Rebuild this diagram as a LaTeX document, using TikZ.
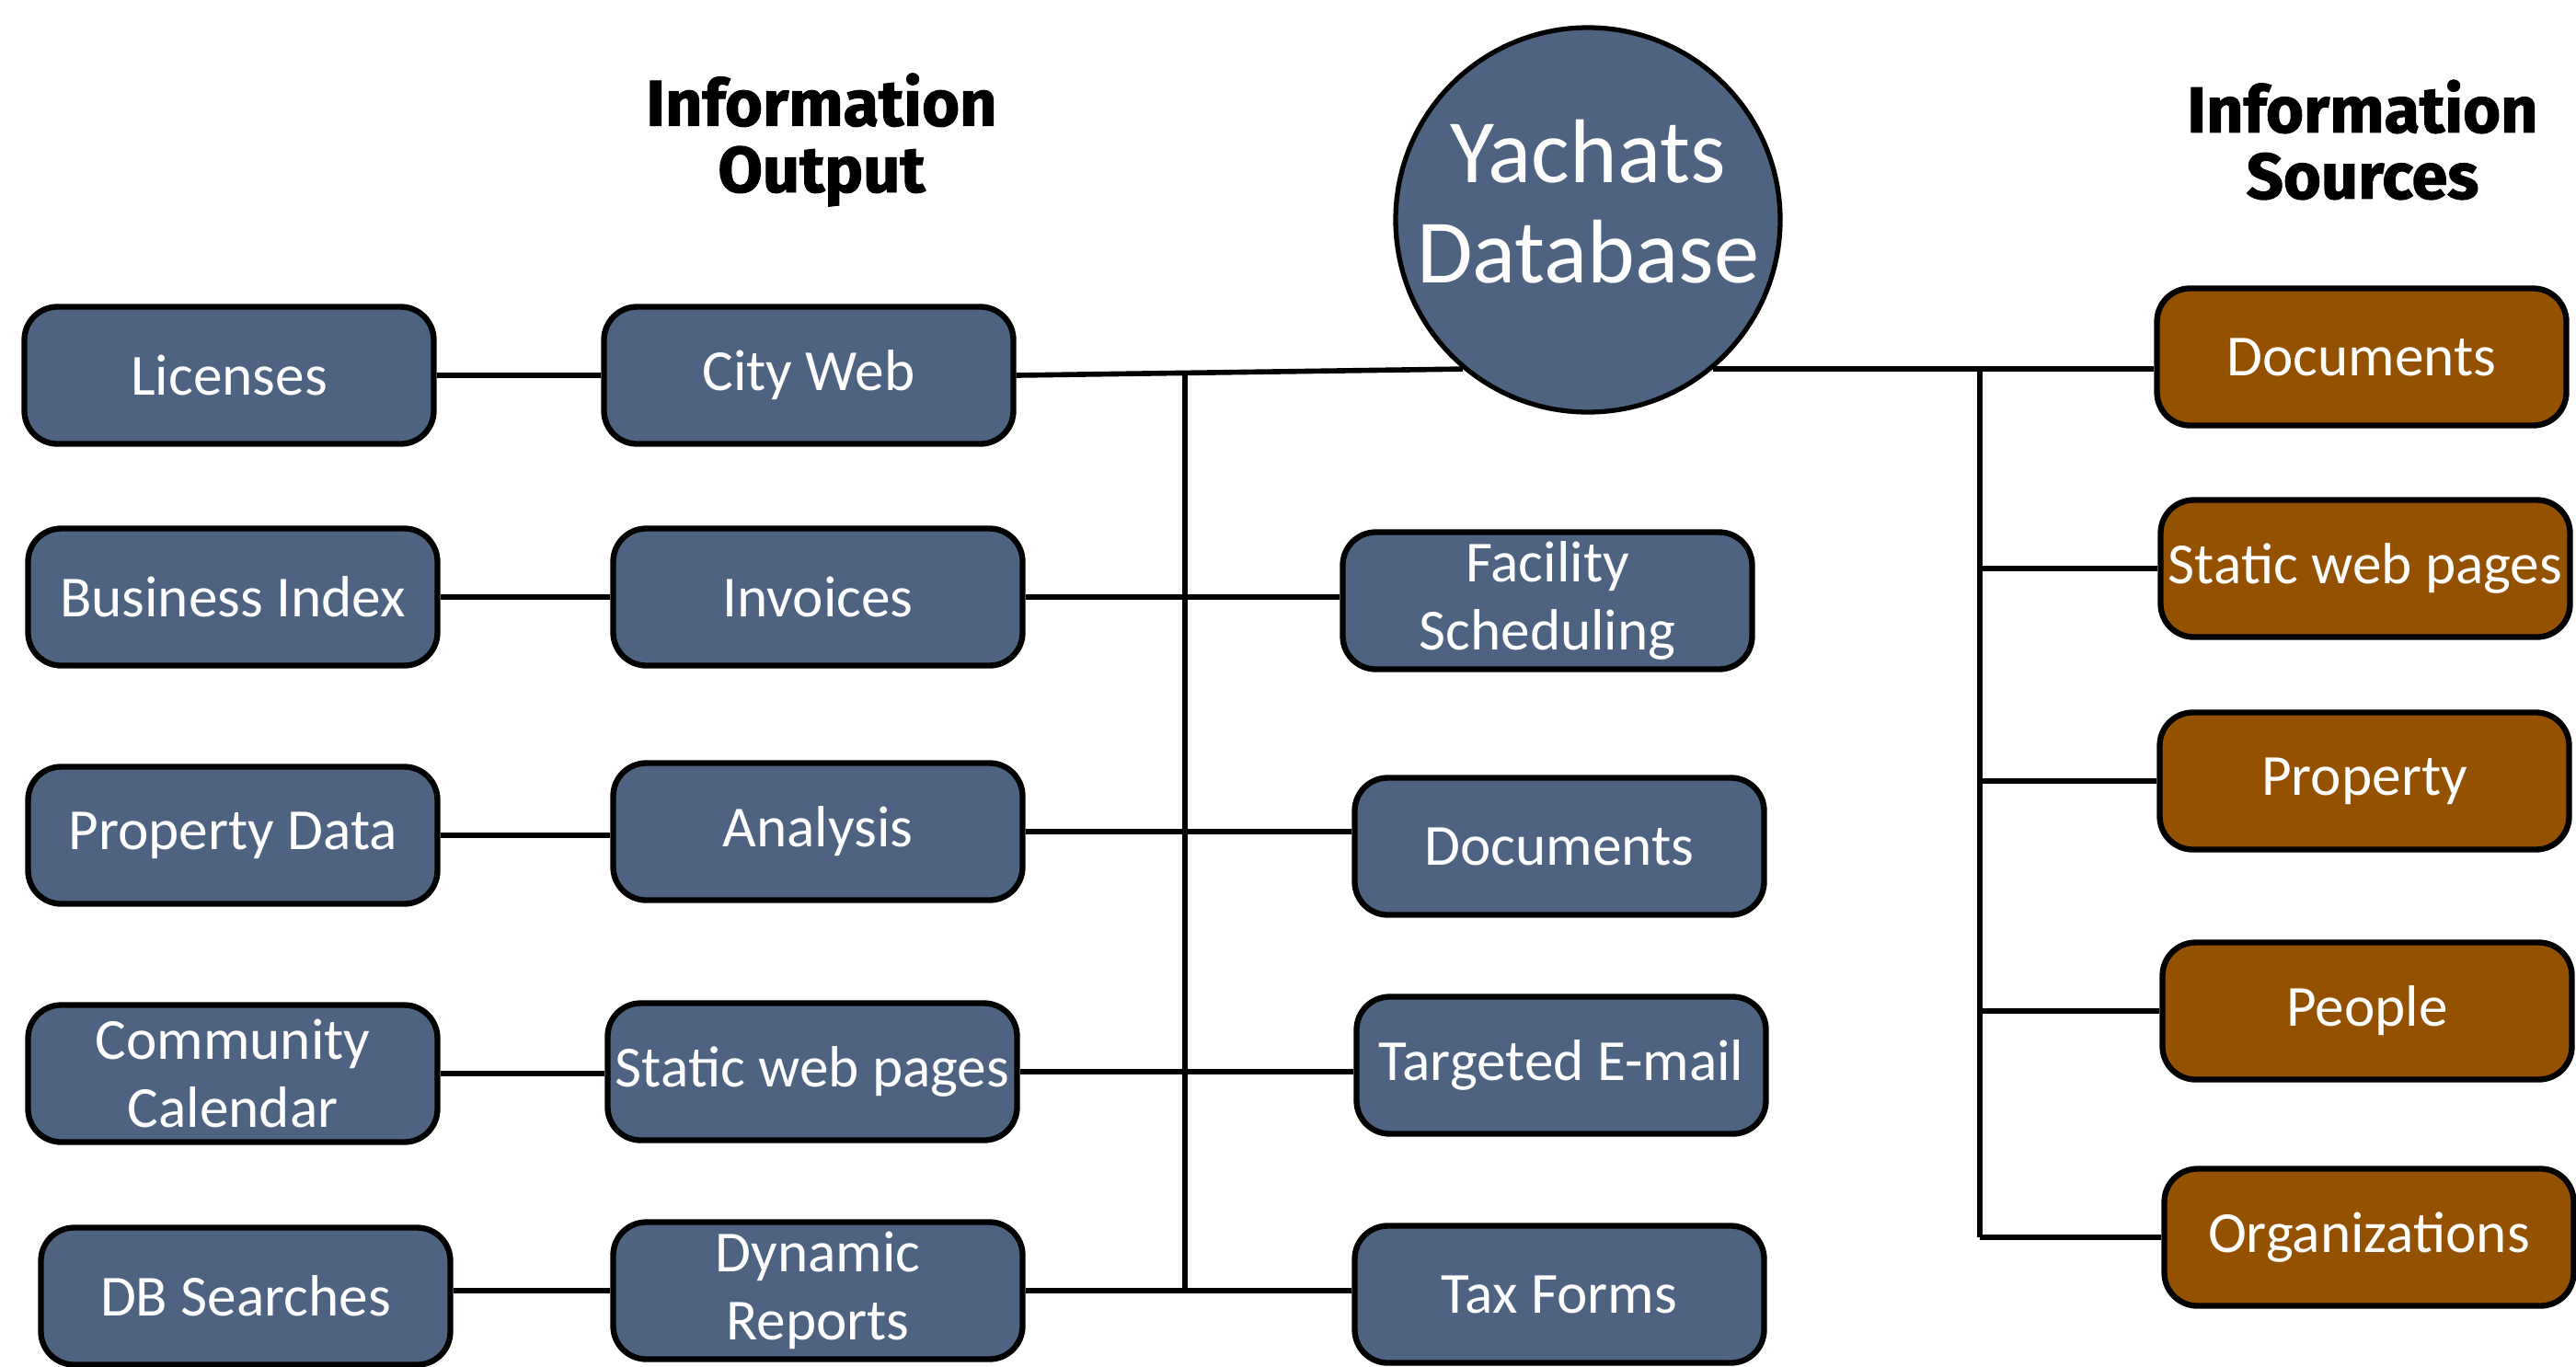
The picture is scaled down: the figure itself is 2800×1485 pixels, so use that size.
\documentclass[tikz,border=0pt]{standalone}
\usepackage{fontspec}
\setmainfont{Carlito}
\newfontfamily\headfont[BoldFeatures={FakeBold=1.5}]{Fira Sans}
\usepackage{tikz}
\usetikzlibrary{positioning}
\definecolor{slateblue}{RGB}{78,99,130}
\definecolor{rust}{RGB}{148,82,0}

\begin{document}
\begin{tikzpicture}[x=0.1mm,y=-0.1mm,
  outbox/.style={draw=black,line width=1.8pt,rounded corners=3.6mm,fill=slateblue,text=white,
    minimum width=44.5mm,minimum height=14.9mm,inner sep=0pt,align=center,
    font=\fontsize{18}{21}\selectfont},
  srcbox/.style={outbox,fill=rust},
  hub/.style={circle,draw=black,line width=1.5pt,fill=slateblue,minimum size=41.8mm,inner sep=0pt},
  head/.style={align=center,font=\headfont\bfseries\fontsize{20}{20.5}\selectfont},
  wire/.style={line width=1.6pt}]
  \useasboundingbox (0,0) rectangle (2800,1485); % page = 2800 x 1485 px

  % headings
  \node[head] (outhead) at (893,152) {Information\\Output};
  \node[head] (srchead) at (2568,152) {Information\\Sources};

  % database
  \node[hub] (db) at (1726,239) {};
  \node[text=white,align=center,font=\fontsize{28}{31}\selectfont] (dbname) at (1726,219) {Yachats\\Database};

  % outputs, first column
  \node[outbox] (lic) at (249,408) {Licenses};
  \node[outbox] (bix) at (253,649) {Business Index};
  \node[outbox] (pdat) at (253,908) {Property Data};
  \node[outbox] (cal) at (253,1167) {Community\\Calendar};
  \node[outbox] (dbs) at (267,1409) {DB Searches};

  % outputs, second column
  \node[outbox] (web) at (879,408) {City Web};
  \node[outbox] (inv) at (889,649) {Invoices};
  \node[outbox] (ana) at (889,904) {Analysis};
  \node[outbox] (swp) at (883,1165) {Static web pages};
  \node[outbox] (dyn) at (889,1403) {Dynamic\\Reports};

  % outputs, third column
  \node[outbox] (fac) at (1682,653) {Facility\\Scheduling};
  \node[outbox] (odoc) at (1695,920) {Documents};
  \node[outbox] (mail) at (1697,1158) {Targeted E-mail};
  \node[outbox] (tax) at (1695,1407) {Tax Forms};

  % sources
  \node[srcbox] (sdoc) at (2567,388) {Documents};
  \node[srcbox] (sweb) at (2571,618) {Static web pages};
  \node[srcbox] (prop) at (2570,849) {Property};
  \node[srcbox] (ppl) at (2573,1099) {People};
  \node[srcbox] (org) at (2575,1345) {Organizations};

  % left side wiring
  \draw[wire] (lic.east) -- (lic.east -| web.west);
  \draw[wire] (bix.east) -- (bix.east -| inv.west);
  \draw[wire] (pdat.east) -- (pdat.east -| ana.west);
  \draw[wire] (cal.east) -- (cal.east -| swp.west);
  \draw[wire] (dyn.west -| dbs.east) -- (dyn.west);
  \draw[wire] (web.east) -- (db.230);
  \draw[wire] (inv.east) -- (inv.east -| fac.west);
  \draw[wire] (ana.east) -- (ana.east -| odoc.west);
  \draw[wire] (swp.east) -- (swp.east -| mail.west);
  \draw[wire] (dyn.east) -- (dyn.east -| tax.west);
  \coordinate (lb) at (1288,406);
  \draw[wire] (lb) -- (lb |- dyn.east);

  % right side wiring
  \draw[wire] (db.310) -- (db.310 -| sdoc.west);
  \coordinate (rb) at (2152,402);
  \draw[wire] (rb) -- (rb |- org.west);
  \foreach \n in {sweb,prop,ppl,org}
    \draw[wire] (rb |- \n.west) -- (\n.west);
\end{tikzpicture}
\end{document}
